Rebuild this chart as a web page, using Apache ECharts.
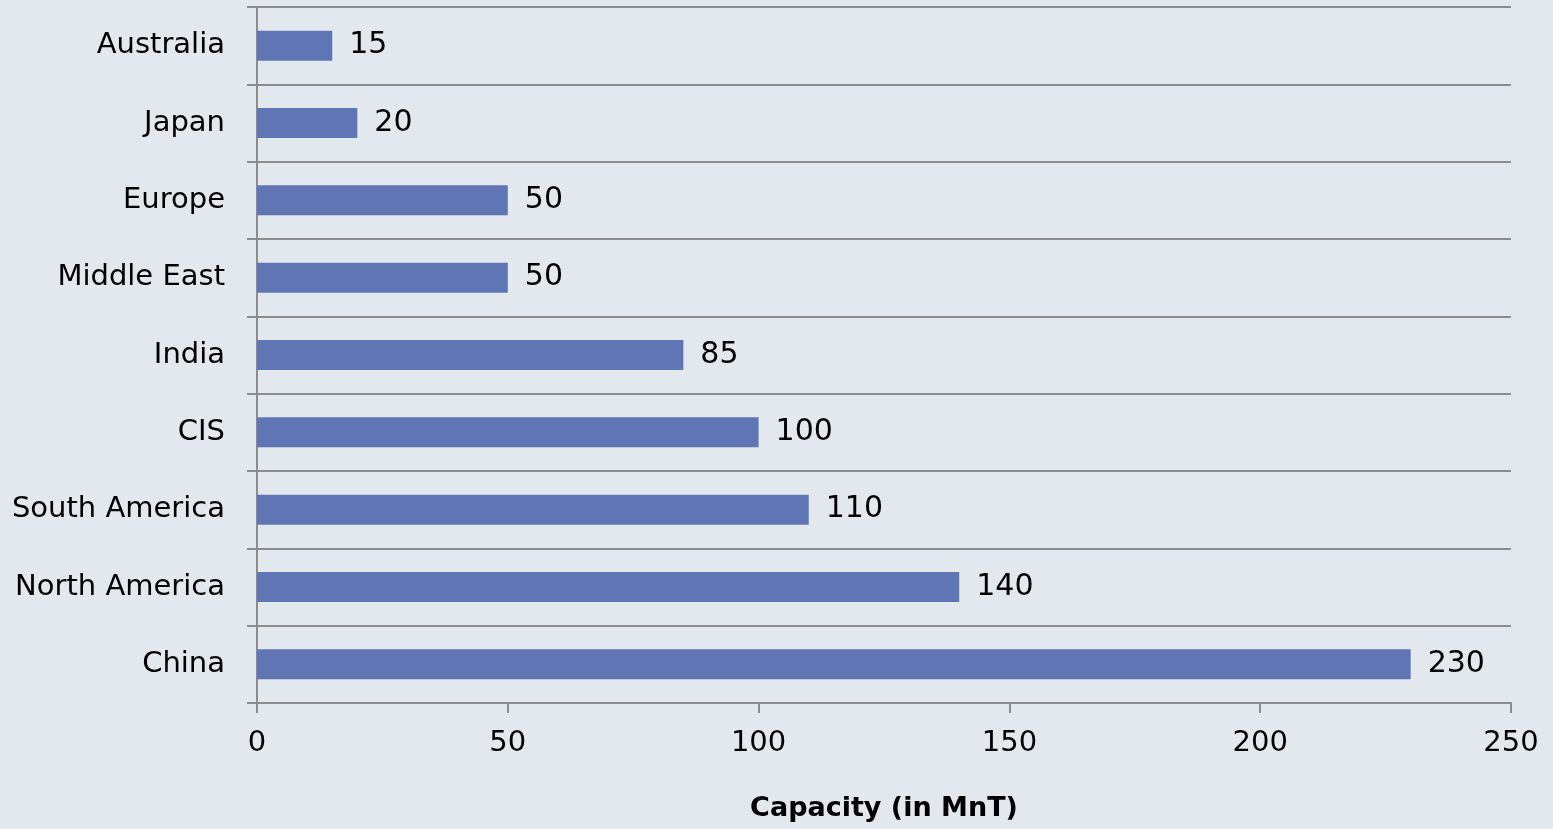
<!DOCTYPE html>
<html lang="en">

<head>
    <meta charset="UTF-8">
    <title>Capacity by region</title>
    <script src="https://cdn.jsdelivr.net/npm/echarts@6/dist/echarts.min.js"></script>
    <style>
        html, body { margin: 0; padding: 0; background: #e3e8ef; }
    </style>
</head>

<body>
    <div id="main" style="width: 1553px;height:829px;"></div>
    <script type="text/javascript">
        // regions, bottom to top
        var regions = ['China', 'North America', 'South America', 'CIS', 'India', 'Middle East', 'Europe', 'Japan', 'Australia'];
        var capacity = [230, 140, 110, 100, 85, 50, 50, 20, 15];
        var xTicks = [0, 50, 100, 150, 200, 250];

        var font = '"DejaVu Sans", sans-serif';
        var myChart = echarts.init(document.getElementById('main'));

        var option = {
            backgroundColor: '#e3e8ef',
            animation: false,
            grid: {
                left: 257,
                right: 42,
                top: 7,
                bottom: 126,
                containLabel: false,
                outerBoundsMode: 'none'
            },
            xAxis: {
                type: 'value',
                min: xTicks[0],
                max: xTicks[xTicks.length - 1],
                interval: 50,
                name: 'Capacity (in MnT)',
                nameLocation: 'middle',
                nameGap: 92,
                nameTextStyle: { color: '#000', fontSize: 27, fontWeight: 'bold', fontFamily: font },
                axisLine: { show: true, lineStyle: { color: '#8c8c8c', width: 2 } },
                axisTick: { show: true, length: 10, lineStyle: { color: '#8c8c8c', width: 2 } },
                axisLabel: { color: '#000', fontSize: 29, margin: 26, fontFamily: font },
                splitLine: { show: false }
            },
            yAxis: {
                type: 'category',
                data: regions,
                axisLine: { show: true, lineStyle: { color: '#8c8c8c', width: 2 } },
                axisTick: { show: true, length: 10, lineStyle: { color: '#8c8c8c', width: 2 } },
                axisLabel: { color: '#000', fontSize: 29, margin: 32, fontFamily: font },
                splitLine: { show: true, lineStyle: { color: '#8c8c8c', width: 2 } }
            },
            series: [
                {
                    type: 'bar',
                    data: capacity,
                    barWidth: 30,
                    itemStyle: { color: '#6076b4' },
                    label: {
                        show: true,
                        position: 'right',
                        distance: 17,
                        color: '#000',
                        fontSize: 30,
                        fontFamily: font
                    }
                }
            ]
        };

        myChart.setOption(option);
    </script>
</body>

</html>
